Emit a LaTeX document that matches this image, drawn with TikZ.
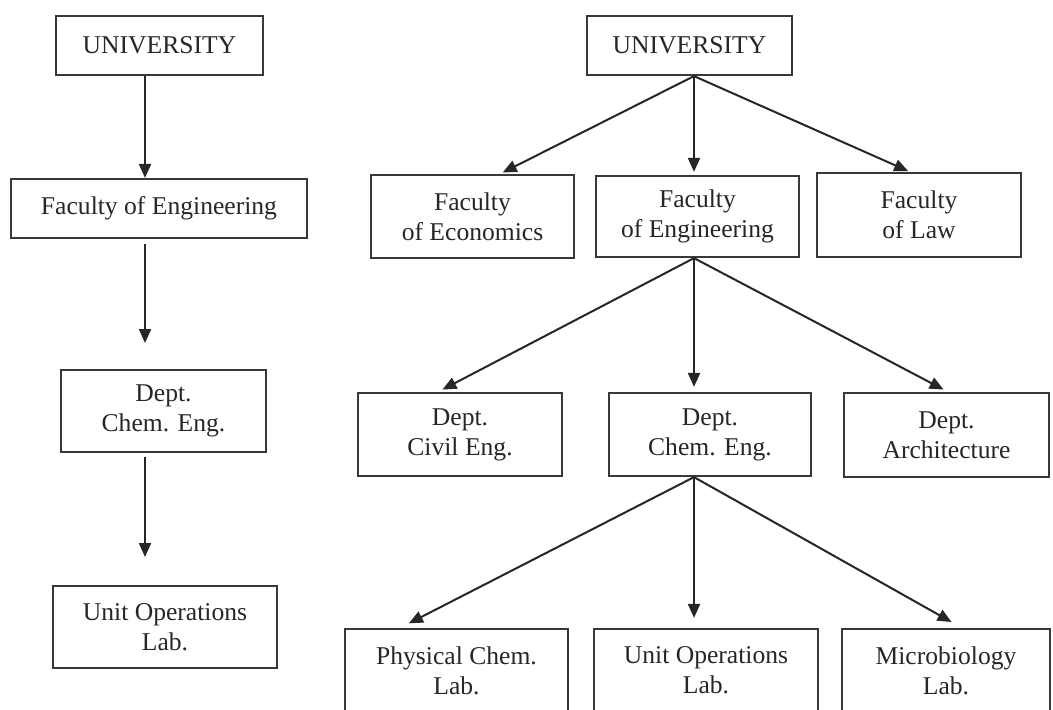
\documentclass[tikz,border=0pt]{standalone}
\usepackage{fontspec}
\setmainfont{Liberation Serif}
\usetikzlibrary{arrows.meta}

\tikzset{
  unit/.style={draw=black!78, line width=1.1pt, inner sep=0pt, align=center,
    text=black!85, font=\fontsize{12.8}{15}\selectfont,
    minimum width=102pt, minimum height=29.5pt},
  box/.style={unit, minimum height=41.5pt},
  arr/.style={draw=black!85, line width=1pt, -{Triangle[length=7pt,width=6pt]}},
}

\begin{document}
\begin{tikzpicture}[x=0.5pt,y=-0.5pt]
\clip (0,0) rectangle (1053,709);

% left: the single line
\node[unit, minimum width=103.5pt] (uniL) at (159.5,45.5) {UNIVERSITY};
\node[unit, minimum width=148pt] (facL) at (159,208.5) {Faculty of Engineering};
\node[box, minimum width=102.5pt, minimum height=41pt] (depL) at (163.5,411) {Dept.\\Chem. Eng.};
\node[box, minimum width=112pt, minimum height=41pt] (labL) at (165,627) {Unit Operations\\Lab.};

\coordinate (xL) at (145,0);
\coordinate (endL1) at (145,343);
\coordinate (endL2) at (145,557);

\draw[arr] (uniL.south -| xL) -- (facL.north -| xL);
\draw[arr, shorten <=2.5pt] (facL.south -| xL) -- (endL1);
\draw[arr, shorten <=2pt] (depL.south -| xL) -- (endL2);

% right: the whole tree
\node[unit, minimum width=102.5pt] (uniR) at (689.5,45.5) {UNIVERSITY};

\node[box, minimum width=101.5pt] (ecoR) at (472.5,216.5) {Faculty\\of Economics};
\node[box, minimum width=101.5pt, minimum height=40.5pt] (engR) at (697.5,216.5) {Faculty\\of Engineering};
\node[box, minimum height=42pt] (lawR) at (919,215) {Faculty\\of Law};

\node[box] (civR) at (460,434.5) {Dept.\\Civil Eng.};
\node[box, minimum width=101pt] (chemR) at (710,434.5) {Dept.\\Chem. Eng.};
\node[box, minimum width=102.5pt, minimum height=42pt] (archR) at (946.5,435) {Dept.\\Architecture};

\node[box, minimum width=111.5pt] (phyR) at (456.5,670.5) {Physical Chem.\\Lab.};
\node[box, minimum width=112pt] (unitR) at (706,670.5) {Unit Operations\\Lab.};
\node[box, minimum width=104pt] (micR) at (946,670.5) {Microbiology\\Lab.};

\coordinate (xR) at (694,0);
\coordinate (tEco) at (500,0);
\coordinate (tLaw) at (910,0);
\coordinate (tCiv) at (438,0);
\coordinate (tArch) at (948,0);
\coordinate (tPhy) at (400,0);
\coordinate (tMic) at (962,0);

\draw[arr, shorten >=1.5pt] (uniR.south -| xR) -- (ecoR.north -| tEco);
\draw[arr, shorten >=1.5pt] (uniR.south -| xR) -- (engR.north -| xR);
\draw[arr, shorten >=1pt] (uniR.south -| xR) -- (lawR.north -| tLaw);

\draw[arr, shorten >=2.5pt] (engR.south -| xR) -- (civR.north -| tCiv);
\draw[arr, shorten >=2.5pt] (engR.south -| xR) -- (chemR.north -| xR);
\draw[arr, shorten >=2.5pt] (engR.south -| xR) -- (archR.north -| tArch);

\draw[arr, shorten >=5pt] (chemR.south -| xR) -- (phyR.north -| tPhy);
\draw[arr, shorten >=5pt] (chemR.south -| xR) -- (unitR.north -| xR);
\draw[arr, shorten >=6pt] (chemR.south -| xR) -- (micR.north -| tMic);

\end{tikzpicture}
\end{document}
